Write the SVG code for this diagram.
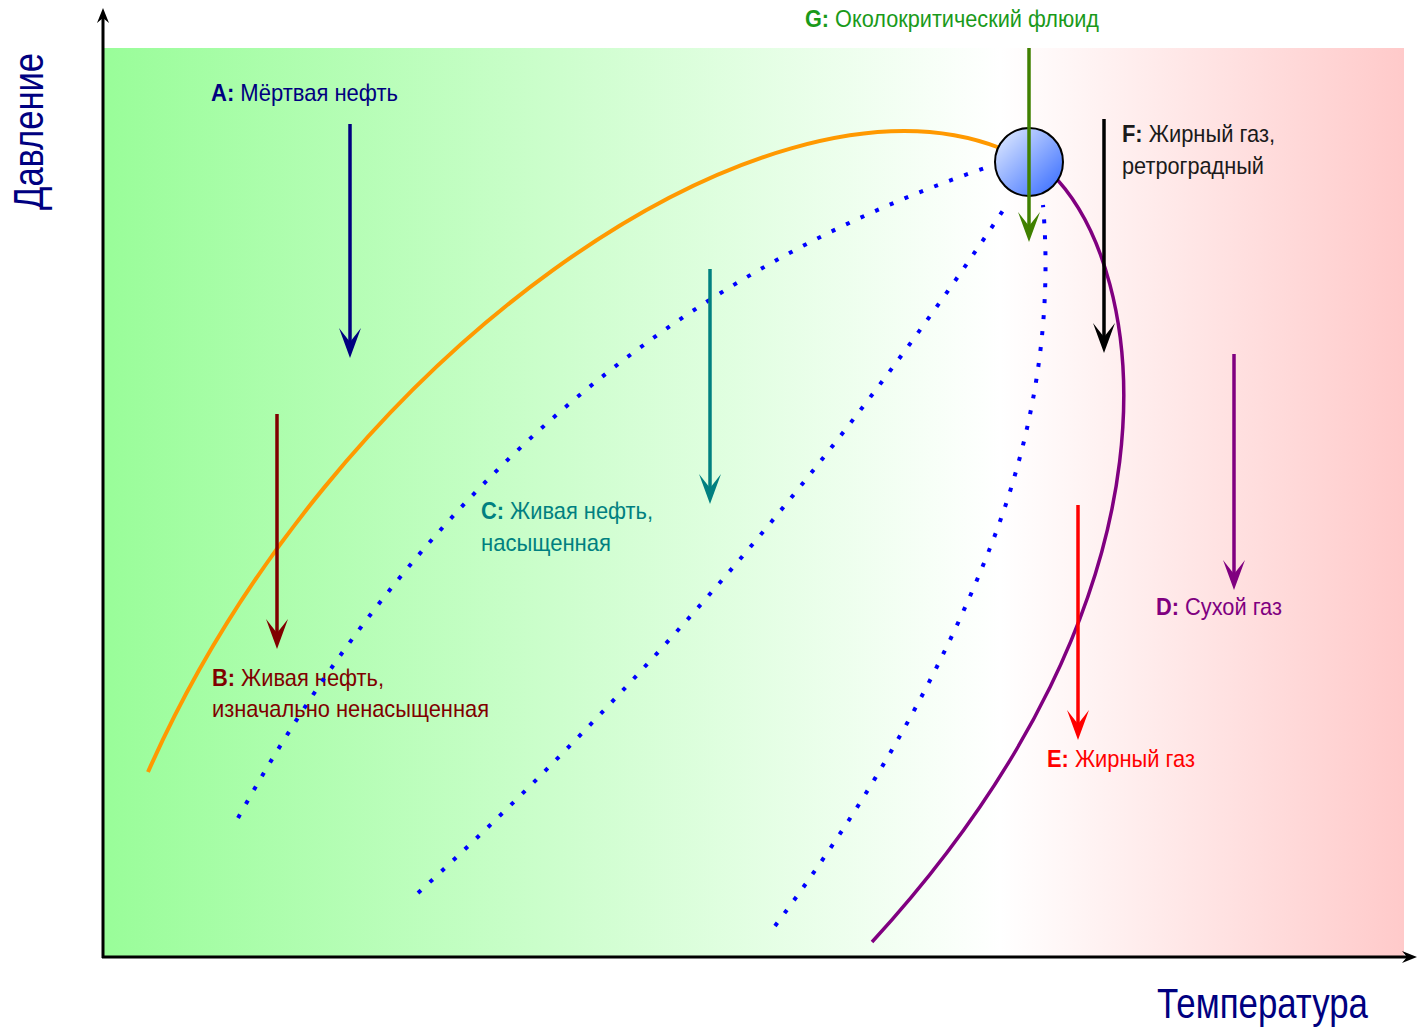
<svg xmlns="http://www.w3.org/2000/svg" width="1418" height="1027" viewBox="0 0 1418 1027">
  <defs>
    <linearGradient id="bgGrad" x1="0" y1="0" x2="1" y2="0">
      <stop offset="0" stop-color="#99fd99"/>
      <stop offset="0.69" stop-color="#ffffff"/>
      <stop offset="1" stop-color="#ffcaca"/>
    </linearGradient>
    <linearGradient id="critGrad" x1="0.15" y1="0.15" x2="0.9" y2="0.9">
      <stop offset="0" stop-color="#cddcff"/>
      <stop offset="1" stop-color="#4274ff"/>
    </linearGradient>
    <marker id="axisHead" markerUnits="userSpaceOnUse" refX="0" refY="0" orient="auto" overflow="visible">
      <path d="M10,0 L-5,-6 L0,0 L-5,6 Z" fill="#000"/>
    </marker>
    <marker id="headA" markerUnits="userSpaceOnUse" refX="0" refY="0" orient="auto" overflow="visible"><path d="M16,0 L-14,-11 L0,0 L-14,11 Z" fill="#000080"/></marker>
    <marker id="headB" markerUnits="userSpaceOnUse" refX="0" refY="0" orient="auto" overflow="visible"><path d="M16,0 L-14,-11 L0,0 L-14,11 Z" fill="#800000"/></marker>
    <marker id="headC" markerUnits="userSpaceOnUse" refX="0" refY="0" orient="auto" overflow="visible"><path d="M16,0 L-14,-11 L0,0 L-14,11 Z" fill="#008080"/></marker>
    <marker id="headD" markerUnits="userSpaceOnUse" refX="0" refY="0" orient="auto" overflow="visible"><path d="M16,0 L-14,-11 L0,0 L-14,11 Z" fill="#800080"/></marker>
    <marker id="headE" markerUnits="userSpaceOnUse" refX="0" refY="0" orient="auto" overflow="visible"><path d="M16,0 L-14,-11 L0,0 L-14,11 Z" fill="#ff0000"/></marker>
    <marker id="headF" markerUnits="userSpaceOnUse" refX="0" refY="0" orient="auto" overflow="visible"><path d="M16,0 L-14,-11 L0,0 L-14,11 Z" fill="#000000"/></marker>
    <marker id="headG" markerUnits="userSpaceOnUse" refX="0" refY="0" orient="auto" overflow="visible"><path d="M16,0 L-14,-11 L0,0 L-14,11 Z" fill="#408000"/></marker>
  </defs>
  <style>
    text { font-family: "Liberation Sans", Arial, sans-serif; }
    .lbl { font-size: 24px; }
    .key { font-weight: bold; }
    .axisLbl { font-size: 42px; fill: #000080; }
    .arrow { stroke-width: 3.5; fill: none; }
    .dots { fill: none; stroke: #0000ff; stroke-width: 4; stroke-dasharray: 4 12; }
  </style>

  <!-- plot area background -->
  <rect id="plotArea" x="103" y="48" width="1301" height="909" fill="url(#bgGrad)"/>

  <!-- phase envelope boundaries -->
  <g id="envelope">
    <path id="bubbleLine" d="M148,772 C330,360 760,55 1000,148" fill="none" stroke="#ff9900" stroke-width="4"/>
    <path id="dewLine" d="M1050,172 C1150,270 1195,590 872,942" fill="none" stroke="#800080" stroke-width="3.5"/>
  </g>

  <!-- labels -->
  <g id="labelA"><text class="lbl" x="211" y="101" fill="#000080" textLength="187" lengthAdjust="spacingAndGlyphs"><tspan class="key">A:</tspan> Мёртвая нефть</text></g>
  <g id="labelB">
    <text class="lbl" x="212" y="686" fill="#800000" textLength="172" lengthAdjust="spacingAndGlyphs"><tspan class="key">B:</tspan> Живая нефть,</text>
    <text class="lbl" x="212" y="717" fill="#800000" textLength="277" lengthAdjust="spacingAndGlyphs">изначально ненасыщенная</text>
  </g>
  <g id="labelC">
    <text class="lbl" x="481" y="519" fill="#008080" textLength="172" lengthAdjust="spacingAndGlyphs"><tspan class="key">C:</tspan> Живая нефть,</text>
    <text class="lbl" x="481" y="551" fill="#008080" textLength="130" lengthAdjust="spacingAndGlyphs">насыщенная</text>
  </g>
  <g id="labelD"><text class="lbl" x="1156" y="615" fill="#800080" textLength="126" lengthAdjust="spacingAndGlyphs"><tspan class="key">D:</tspan> Сухой газ</text></g>
  <g id="labelE"><text class="lbl" x="1047" y="767" fill="#ff0000" textLength="148" lengthAdjust="spacingAndGlyphs"><tspan class="key">E:</tspan> Жирный газ</text></g>
  <g id="labelF">
    <text class="lbl" x="1122" y="142" fill="#1a1a1a" textLength="153" lengthAdjust="spacingAndGlyphs"><tspan class="key">F:</tspan> Жирный газ,</text>
    <text class="lbl" x="1122" y="174" fill="#1a1a1a" textLength="142" lengthAdjust="spacingAndGlyphs">ретроградный</text>
  </g>
  <g id="labelG"><text class="lbl" x="805" y="27" fill="#1a9a1a" textLength="294" lengthAdjust="spacingAndGlyphs"><tspan class="key">G:</tspan> Околокритический флюид</text></g>

  <!-- quality lines inside the two-phase region -->
  <g id="qualityLines">
    <path class="dots" d="M238,818 Q508,331 985,168"/>
    <path class="dots" d="M418,893 Q757,582 1008,203"/>
    <path class="dots" d="M775,926 C862,810 937,683 990,548 C1033,439 1053,322 1043,205"/>
  </g>

  <!-- critical point -->
  <g id="criticalPoint">
    <circle cx="1029" cy="162" r="34" fill="url(#critGrad)" stroke="#000" stroke-width="2"/>
  </g>

  <!-- depletion paths -->
  <g id="connectors">
    <line class="arrow" x1="350" y1="124" x2="350" y2="342" stroke="#000080" marker-end="url(#headA)"/>
    <line class="arrow" x1="277" y1="414" x2="277" y2="633" stroke="#800000" marker-end="url(#headB)"/>
    <line class="arrow" x1="710" y1="269" x2="710" y2="488" stroke="#008080" marker-end="url(#headC)"/>
    <line class="arrow" x1="1234" y1="354" x2="1234" y2="574" stroke="#800080" marker-end="url(#headD)"/>
    <line class="arrow" x1="1078" y1="505" x2="1078" y2="724" stroke="#ff0000" marker-end="url(#headE)"/>
    <line class="arrow" x1="1104" y1="119" x2="1104" y2="337" stroke="#000000" marker-end="url(#headF)"/>
    <line class="arrow" x1="1029" y1="48" x2="1029" y2="226" stroke="#408000" marker-end="url(#headG)"/>
  </g>

  <!-- axes -->
  <g id="axes" stroke="#000" stroke-width="3" fill="none">
    <line x1="103" y1="958" x2="103" y2="18" marker-end="url(#axisHead)"/>
    <line x1="102" y1="957" x2="1407" y2="957" marker-end="url(#axisHead)"/>
  </g>
  <g id="axisLabels">
    <text class="axisLbl" x="1157" y="1018" textLength="211" lengthAdjust="spacingAndGlyphs">Температура</text>
    <text class="axisLbl" transform="translate(43,210) rotate(-90)" x="0" y="0" textLength="157" lengthAdjust="spacingAndGlyphs">Давление</text>
  </g>
</svg>
